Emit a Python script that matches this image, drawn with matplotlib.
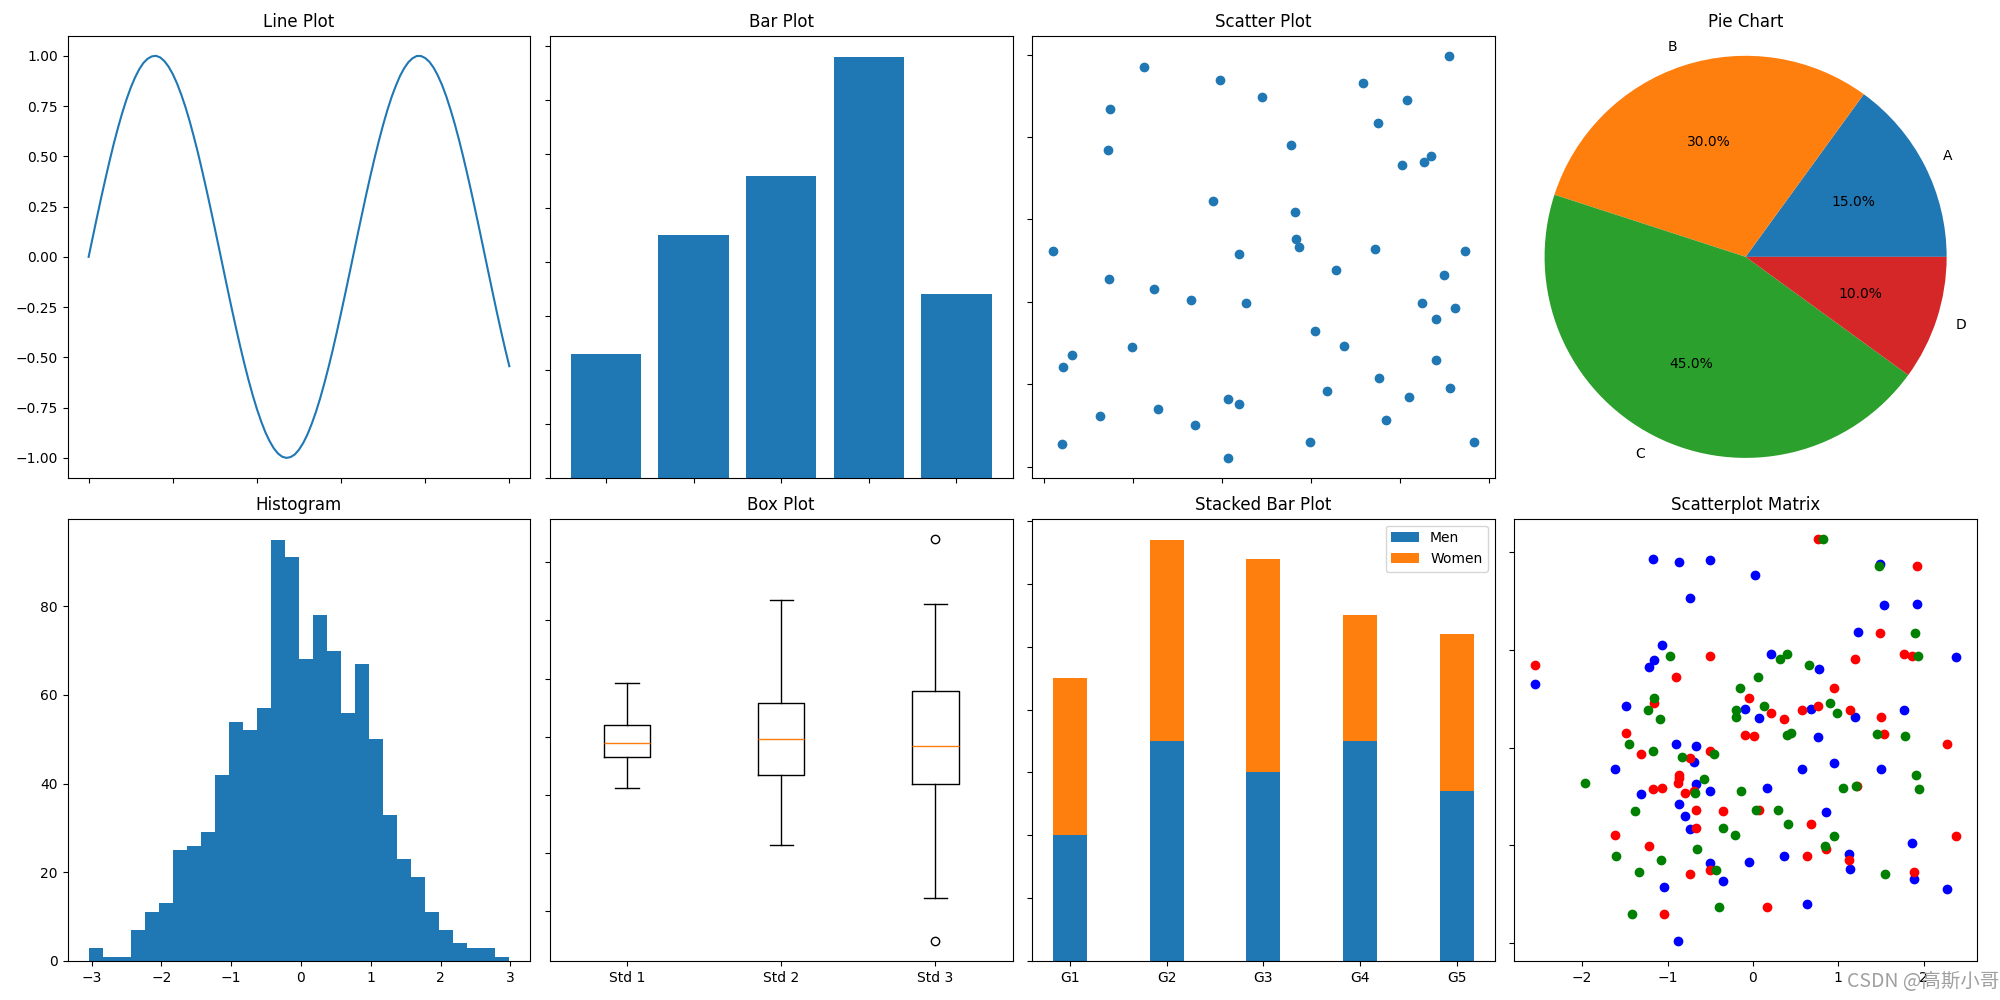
import numpy as np
import matplotlib.pyplot as plt

# line plot: curve read every 0.1 along x (0..10)
line_y = [0.000, 0.100, 0.199, 0.296, 0.389, 0.479, 0.565, 0.644, 0.717, 0.783,
          0.841, 0.891, 0.932, 0.964, 0.985, 0.997, 1.000, 0.992, 0.974, 0.946,
          0.909, 0.863, 0.808, 0.746, 0.676, 0.598, 0.516, 0.427, 0.335, 0.239,
          0.141, 0.042, -0.058, -0.158, -0.256, -0.351, -0.443, -0.530, -0.612, -0.688,
          -0.757, -0.818, -0.872, -0.916, -0.952, -0.978, -0.994, -1.000, -0.996, -0.983,
          -0.959, -0.926, -0.884, -0.832, -0.773, -0.706, -0.631, -0.551, -0.465, -0.374,
          -0.279, -0.182, -0.083, 0.017, 0.117, 0.215, 0.312, 0.405, 0.494, 0.578,
          0.657, 0.729, 0.794, 0.850, 0.899, 0.938, 0.968, 0.988, 0.999, 0.999,
          0.989, 0.970, 0.941, 0.902, 0.855, 0.799, 0.734, 0.663, 0.585, 0.501,
          0.412, 0.319, 0.223, 0.125, 0.025, -0.075, -0.174, -0.272, -0.367, -0.458,
          -0.544]
line_x_end = 10

# bar plot
bar_values = [0.23, 0.45, 0.56, 0.78, 0.34]

# scatter plot
scatter_x = [0.224, 0.395, 0.489, 0.149, 0.143, 0.554, 0.716, 0.815, 0.750, 0.910,
             0.804, 0.855, 0.870, 0.379, 0.563, 0.020, 0.437, 0.566, 0.572, 0.743,
             0.947, 0.146, 0.246, 0.331, 0.453, 0.657, 0.900, 0.849, 0.923, 0.880,
             0.608, 0.675, 0.197, 0.062, 0.043, 0.880, 0.754, 0.637, 0.912, 0.821,
             0.413, 0.437, 0.257, 0.126, 0.340, 0.768, 0.041, 0.597, 0.966, 0.413]
scatter_y = [0.971, 0.939, 0.898, 0.867, 0.769, 0.781, 0.931, 0.889, 0.835, 0.997,
             0.731, 0.740, 0.753, 0.645, 0.617, 0.522, 0.515, 0.553, 0.532, 0.529,
             0.524, 0.456, 0.432, 0.405, 0.398, 0.476, 0.464, 0.398, 0.384, 0.357,
             0.330, 0.292, 0.290, 0.270, 0.241, 0.258, 0.216, 0.183, 0.190, 0.168,
             0.163, 0.153, 0.139, 0.122, 0.100, 0.112, 0.054, 0.059, 0.059, 0.021]

# pie chart
pie_labels = ['A', 'B', 'C', 'D']
pie_sizes = [15, 30, 45, 10]

# histogram (30 bins)
hist_counts = [3, 1, 1, 7, 11, 13, 25, 26, 29, 42, 54, 52, 57, 95, 91,
               68, 78, 70, 56, 67, 50, 33, 23, 19, 11, 7, 4, 3, 3, 1]
hist_lo, hist_hi = -3.043, 2.986

# box plot summary stats
box_labels = ['Std 1', 'Std 2', 'Std 3']
box_med = [-0.26, -0.09, -0.39]
box_q1 = [-0.86, -1.63, -2.02]
box_q3 = [0.52, 1.46, 1.96]
box_whislo = [-2.19, -4.64, -6.92]
box_whishi = [2.32, 5.89, 5.70]
box_fliers = [[], [], [8.51, -8.77]]

# stacked bars
groups = ['G1', 'G2', 'G3', 'G4', 'G5']
men_means = [20, 35, 30, 35, 27]
women_means = [25, 32, 34, 20, 25]

# scatterplot matrix
blue_x = [-1.17, -0.86, -0.50, 0.02, -0.74, 1.49, 1.54, 1.92, 1.23, -1.07,
          -1.16, -1.22, 0.21, 0.77, 2.38, -2.55, -1.49, -0.09, 0.07, 0.68,
          1.20, 1.77, 0.76, -0.90, -0.67, -0.69, -1.61, 0.57, 0.95, 1.50,
          -0.67, -1.31, -0.50, 0.17, -0.86, -0.80, -0.74, 0.86, 1.87, -0.50,
          -0.04, 0.37, 1.13, 1.14, -1.04, -0.35, 1.89, 2.28, 0.63, -0.88]
blue_y = [1.93, 1.90, 1.92, 1.77, 1.53, 1.88, 1.46, 1.47, 1.19, 1.05,
          0.90, 0.83, 0.96, 0.81, 0.93, 0.65, 0.43, 0.40, 0.30, 0.40,
          0.31, 0.39, 0.11, 0.04, 0.02, -0.15, -0.22, -0.22, -0.16, -0.22,
          -0.37, -0.47, -0.44, -0.41, -0.58, -0.70, -0.83, -0.66, -0.98, -1.18,
          -1.17, -1.11, -1.09, -1.24, -1.43, -1.37, -1.35, -1.45, -1.60, -1.98]
red_x = [0.76, 1.92, -2.55, -0.50, -0.90, 1.49, 1.20, 1.77, 1.87, -1.16,
         -0.04, 0.95, 0.21, 0.37, 0.57, 0.76, 1.14, 1.50, 1.54, -0.09,
         0.01, -1.49, 2.28, -1.31, -0.50, -0.74, -0.86, -0.88, -1.17, -1.07,
         -0.80, -0.69, -0.67, -0.35, 0.07, -0.67, -1.61, -1.22, 0.68, 0.86,
         1.22, 2.38, 0.63, 1.13, 1.89, -0.74, -0.50, -1.04, 0.17, -0.86]
red_y = [2.14, 1.86, 0.85, 0.94, 0.72, 1.17, 0.91, 0.96, 0.94, 0.46,
         0.51, 0.61, 0.35, 0.29, 0.39, 0.43, 0.39, 0.31, 0.14, 0.13,
         0.12, 0.15, 0.04, -0.07, -0.03, -0.11, -0.28, -0.36, -0.42, -0.41,
         -0.46, -0.44, -0.64, -0.65, -0.64, -0.82, -0.90, -1.01, -0.78, -1.04,
         -0.39, -0.91, -1.11, -1.15, -1.27, -1.29, -1.25, -1.70, -1.63, -0.31]
green_x = [0.82, 1.48, 1.90, 1.94, -0.97, 0.32, 0.40, 0.66, 0.06, -0.15,
           -1.16, -1.23, -1.09, -0.20, -0.20, 0.13, 0.90, 0.99, 0.40, 0.45,
           1.46, 1.78, -1.45, -1.17, -0.83, -0.46, -0.57, -0.68, -0.14, 1.06,
           1.21, 1.91, 1.95, -1.97, -1.38, 0.04, 0.30, 0.41, -0.35, -0.21,
           0.95, 0.84, -0.65, -1.60, -1.08, -1.34, -0.43, 1.55, -0.40, -1.42]
green_y = [2.14, 1.86, 1.17, 0.94, 0.94, 0.91, 0.96, 0.85, 0.72, 0.61,
           0.51, 0.39, 0.29, 0.39, 0.31, 0.43, 0.46, 0.35, 0.13, 0.15,
           0.14, 0.12, 0.04, -0.03, -0.10, -0.07, -0.32, -0.46, -0.44, -0.41,
           -0.39, -0.28, -0.42, -0.36, -0.65, -0.64, -0.64, -0.78, -0.82, -0.90,
           -0.91, -1.01, -1.04, -1.11, -1.15, -1.27, -1.25, -1.29, -1.63, -1.70]


fig, axs = plt.subplots(2, 4, figsize=(20, 10), dpi=100)
fig.subplots_adjust(left=0.0338, right=0.9885, bottom=0.039, top=0.9643,
                    wspace=0.042, hspace=0.092)

# line plot
ax = axs[0, 0]
ax.plot(np.linspace(0, line_x_end, len(line_y)), line_y)
ax.set_title('Line Plot')

# bar plot
ax = axs[0, 1]
ax.bar(range(len(bar_values)), bar_values)
ax.set_title('Bar Plot')

# scatter plot
ax = axs[0, 2]
ax.scatter(scatter_x, scatter_y)
ax.set_title('Scatter Plot')

# pie chart
ax = axs[0, 3]
ax.pie(pie_sizes, labels=pie_labels, autopct='%1.1f%%')
ax.set_aspect('equal', adjustable='datalim')
# box is a bit wider than tall, so x gets the extra room
ax.set_xlim(-1.151, 1.151)
ax.set_ylim(-1.1, 1.1)
ax.set_title('Pie Chart')

# histogram
ax = axs[1, 0]
edges = np.linspace(hist_lo, hist_hi, len(hist_counts) + 1)
centers = (edges[:-1] + edges[1:]) / 2
ax.hist(centers, bins=edges, weights=hist_counts)
ax.set_title('Histogram')

# box plot
ax = axs[1, 1]
stats = []
for i, lab in enumerate(box_labels):
    stats.append({'label': lab, 'med': box_med[i], 'q1': box_q1[i], 'q3': box_q3[i],
                  'whislo': box_whislo[i], 'whishi': box_whishi[i],
                  'fliers': box_fliers[i]})
ax.bxp(stats)
ax.set_title('Box Plot')

# stacked bar plot
ax = axs[1, 2]
ind = np.arange(len(groups))
ax.bar(ind, men_means, 0.35, label='Men')
ax.bar(ind, women_means, 0.35, bottom=men_means, label='Women')
ax.set_xticks(ind)
ax.set_xticklabels(groups)
ax.legend()
ax.set_title('Stacked Bar Plot')

# scatterplot matrix
ax = axs[1, 3]
ax.scatter(blue_x, blue_y, c='b')
ax.scatter(red_x, red_y, c='r')
ax.scatter(green_x, green_y, c='g')
ax.set_title('Scatterplot Matrix')

for ax in axs.flat:
    ax.label_outer()

fig.text(0.9995, 0.0185, 'CSDN @高斯小哥', ha='right', va='center', fontsize=14,
         color='#a0a0a0', family=['Noto Sans CJK SC', 'DejaVu Sans'])

plt.savefig('out.png')
